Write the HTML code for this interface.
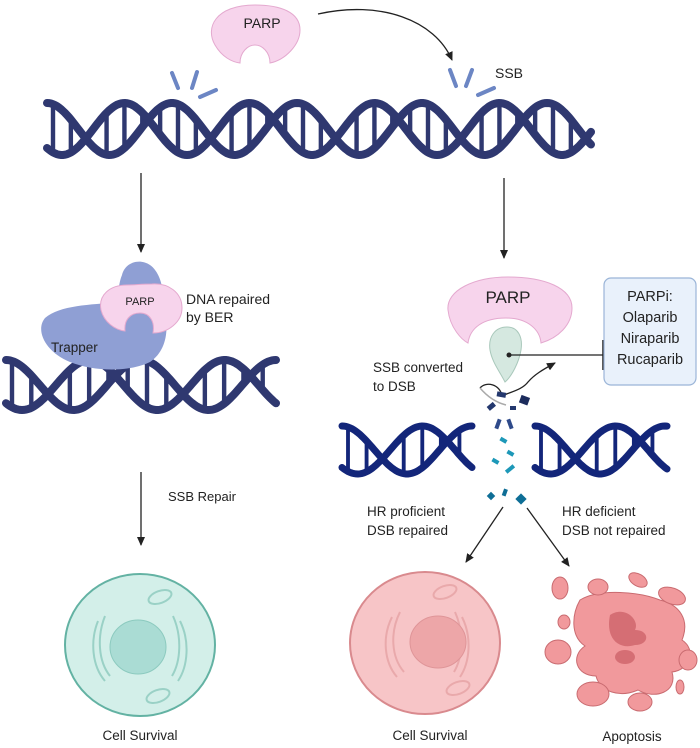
<!DOCTYPE html>
<html><head><meta charset="utf-8"><style>
html,body{margin:0;padding:0;background:#fff;width:700px;height:748px;overflow:hidden}
svg{display:block}
text{font-family:"Liberation Sans",sans-serif;fill:#222}
</style></head><body>
<svg id="s" width="700" height="748" viewBox="0 0 700 748" xmlns="http://www.w3.org/2000/svg">
<defs>
<marker id="ah" markerWidth="10" markerHeight="10" refX="8" refY="5" orient="auto" markerUnits="userSpaceOnUse"><path d="M0,1 L9,5 L0,9 Z" fill="#222"/></marker>
</defs>
<!-- top PARP -->
<path d="M255,5 C215,5 205,28 215,45 C222,57 232,62 240,63 C240,52 248,45 255,45 C262,45 270,52 270,63 C285,60 300,45 300,30 C300,12 280,5 255,5 Z" fill="#f7d4ec" stroke="#e4a9cf" stroke-width="1"/>
<text x="262" y="28" font-size="14" text-anchor="middle">PARP</text>
<path d="M318,14 C380,0 435,20 452,60" fill="none" stroke="#222" stroke-width="1.3" marker-end="url(#ah)"/>
<!-- SSB ticks -->
<g stroke="#6c86c4" stroke-width="4" stroke-linecap="round">
<line x1="172" y1="73" x2="178" y2="88"/><line x1="197" y1="72" x2="192" y2="88"/><line x1="200" y1="97" x2="216" y2="90"/>
<line x1="450" y1="70" x2="456" y2="86"/><line x1="472" y1="70" x2="466" y2="86"/><line x1="478" y1="95" x2="494" y2="88"/>
</g>
<text x="495" y="78" font-size="14">SSB</text>
<g id="dna"></g>
<!-- arrows down -->
<line x1="141" y1="173" x2="141" y2="252" stroke="#222" stroke-width="1.3" marker-end="url(#ah)"/>
<line x1="504" y1="178" x2="504" y2="258" stroke="#222" stroke-width="1.3" marker-end="url(#ah)"/>
<!-- left trapper -->
<path d="M122,275 C125,262 140,258 150,265 C160,272 165,290 162,305 C170,325 168,350 150,362 C130,372 95,372 70,362 C45,352 35,330 45,318 C60,305 90,305 118,302 C118,292 119,282 122,275 Z" fill="#8f9fd4"/>
<text x="51" y="352" font-size="13.5">Trapper</text>
<path d="M127,285 C110,285 98,295 101,310 C104,322 115,330 125,331 C124,320 130,313 140,313 C150,313 155,322 153,333 C168,333 182,322 182,308 C182,292 168,283 152,284 C142,284 135,285 127,285 Z" fill="#f7d4ec" stroke="#e4a9cf" stroke-width="1"/>
<text x="140" y="305" font-size="11" text-anchor="middle">PARP</text>
<text x="186" y="304" font-size="14">DNA repaired</text>
<text x="186" y="322" font-size="14">by BER</text>
<!-- SSB repair arrow -->
<line x1="141" y1="472" x2="141" y2="545" stroke="#222" stroke-width="1.3" marker-end="url(#ah)"/>
<text x="168" y="501" font-size="13">SSB Repair</text>
<!-- right PARP -->
<path d="M508,277 C475,277 446,290 448,310 C450,328 462,340 468,343 C470,328 483,318 506,318 C528,318 540,330 541,343 C558,338 572,325 572,308 C572,288 545,277 508,277 Z" fill="#f7d4ec" stroke="#e4a9cf" stroke-width="1"/>
<text x="508" y="303" font-size="17" text-anchor="middle">PARP</text>
<path d="M507,327 C495,327 488,337 490,350 C492,362 500,372 505,382 C512,376 519,362 521,350 C523,337 518,327 507,327 Z" fill="#d5e8e0" stroke="#a9c8bb" stroke-width="1"/>
<circle cx="509" cy="355" r="2.5" fill="#222"/>
<line x1="509" y1="355" x2="603" y2="355" stroke="#222" stroke-width="1.3"/>
<line x1="603" y1="340" x2="603" y2="370" stroke="#222" stroke-width="1.5"/>
<rect x="604" y="278" width="92" height="107" rx="7" fill="#e9f1fb" stroke="#9bb5d8" stroke-width="1.2"/>
<text font-size="14.5" text-anchor="middle"><tspan x="650" y="301">PARPi:</tspan><tspan x="650" y="322">Olaparib</tspan><tspan x="650" y="343">Niraparib</tspan><tspan x="650" y="364">Rucaparib</tspan></text>
<text x="373" y="372" font-size="13.5">SSB converted</text>
<text x="373" y="391" font-size="13.5">to DSB</text>
<path d="M480,388 C486,381 500,384 502,396 C510,392 522,390 528,382 C534,375 542,370 555,363" fill="none" stroke="#222" stroke-width="1.3" marker-end="url(#ah)"/>
<path d="M480,388 C486,395 494,402 506,405" fill="none" stroke="#aaa" stroke-width="1.5"/>
<!-- DSB fragments -->
<g>
<rect x="497" y="392" width="9" height="5" fill="#24386e" transform="rotate(10 501 394)"/>
<rect x="487" y="404" width="8" height="5" fill="#24386e" transform="rotate(-40 491 406)"/>
<rect x="520" y="396" width="9" height="8" fill="#1c2c5c" transform="rotate(20 524 400)"/>
<rect x="510" y="406" width="6" height="4" fill="#24386e"/>
<rect x="496" y="419" width="4" height="10" fill="#2e4a8a" transform="rotate(20 498 424)"/>
<rect x="508" y="419" width="4" height="10" fill="#2e4a8a" transform="rotate(-20 510 424)"/>
<rect x="500" y="438" width="7" height="4" fill="#1d98b8" transform="rotate(30 503 440)"/>
<rect x="507" y="451" width="7" height="4" fill="#1d98b8" transform="rotate(30 510 453)"/>
<rect x="492" y="459" width="7" height="4" fill="#1d98b8" transform="rotate(30 495 461)"/>
<rect x="505" y="467" width="10" height="4" fill="#1d98b8" transform="rotate(-40 510 469)"/>
<rect x="488" y="493" width="6" height="6" fill="#0e6e96" transform="rotate(45 491 496)"/>
<rect x="503" y="489" width="4" height="7" fill="#0e6e96" transform="rotate(20 505 492)"/>
<rect x="517" y="495" width="8" height="8" fill="#0e6e96" transform="rotate(45 521 499)"/>
</g>
<!-- branch arrows -->
<line x1="503" y1="507" x2="466" y2="562" stroke="#222" stroke-width="1.3" marker-end="url(#ah)"/>
<line x1="527" y1="508" x2="569" y2="566" stroke="#222" stroke-width="1.3" marker-end="url(#ah)"/>
<text font-size="13.5"><tspan x="367" y="516">HR proficient</tspan><tspan x="367" y="535">DSB repaired</tspan></text>
<text font-size="13.5"><tspan x="562" y="516">HR deficient</tspan><tspan x="562" y="535">DSB not repaired</tspan></text>
<!-- left cell -->
<ellipse cx="140" cy="645" rx="75" ry="71" fill="#d3efe9" stroke="#63b2a3" stroke-width="2"/>
<g fill="none" stroke="#9ad1c6" stroke-width="2">
<path d="M98,621 C90,641 92,666 105,681"/><path d="M105,616 C97,636 98,661 110,676"/>
<path d="M180,621 C190,641 188,666 178,681"/><path d="M173,616 C182,636 181,661 172,676"/>
</g>
<ellipse cx="138" cy="647" rx="28" ry="27" fill="#aadcd4" stroke="#8ccabf" stroke-width="1"/>
<ellipse cx="160" cy="597" rx="12" ry="6" fill="none" stroke="#9ad1c6" stroke-width="2" transform="rotate(-20 160 597)"/>
<ellipse cx="158" cy="696" rx="12" ry="6" fill="none" stroke="#9ad1c6" stroke-width="2" transform="rotate(-20 158 696)"/>
<text x="140" y="740" font-size="13.5" text-anchor="middle">Cell Survival</text>
<!-- middle cell -->
<ellipse cx="425" cy="643" rx="75" ry="71" fill="#f7c5c7" stroke="#d98a8e" stroke-width="2"/>
<g fill="none" stroke="#e9a9ab" stroke-width="2">
<path d="M392,617 C382,637 384,662 397,677"/><path d="M400,612 C390,632 391,657 404,672"/>
<path d="M462,617 C472,637 470,662 460,677"/><path d="M455,612 C464,632 463,657 454,672"/>
</g>
<ellipse cx="438" cy="642" rx="28" ry="26" fill="#eda6a8" stroke="#df9598" stroke-width="1"/>
<ellipse cx="445" cy="592" rx="12" ry="6" fill="none" stroke="#e9a9ab" stroke-width="2" transform="rotate(-20 445 592)"/>
<ellipse cx="458" cy="688" rx="12" ry="6" fill="none" stroke="#e9a9ab" stroke-width="2" transform="rotate(-20 458 688)"/>
<text x="430" y="740" font-size="13.5" text-anchor="middle">Cell Survival</text>
<!-- apoptosis -->
<g fill="#f1999c" stroke="#c96b70" stroke-width="1">
<path d="M580,600 C600,588 640,592 660,600 C680,605 690,620 682,640 C697,650 690,670 672,672 C678,692 655,700 638,690 C620,698 600,692 596,676 C576,676 570,656 585,646 C570,636 572,614 580,600 Z"/>
<ellipse cx="560" cy="588" rx="8" ry="11"/>
<ellipse cx="598" cy="587" rx="10" ry="8"/>
<ellipse cx="638" cy="580" rx="10" ry="6" transform="rotate(30 638 580)"/>
<ellipse cx="672" cy="596" rx="14" ry="8" transform="rotate(20 672 596)"/>
<ellipse cx="564" cy="622" rx="6" ry="7"/>
<ellipse cx="558" cy="652" rx="13" ry="12"/>
<ellipse cx="688" cy="660" rx="9" ry="10"/>
<ellipse cx="593" cy="694" rx="16" ry="12"/>
<ellipse cx="640" cy="702" rx="12" ry="9"/>
<ellipse cx="680" cy="687" rx="4" ry="7"/>
</g>
<g fill="#d56e74">
<path d="M610,615 C625,605 640,620 635,630 C650,630 650,645 635,645 C620,650 605,640 610,615 Z"/>
<ellipse cx="625" cy="657" rx="10" ry="7"/>
</g>
<text x="632" y="741" font-size="13.5" text-anchor="middle">Apoptosis</text>
</svg>
<script>
(function(){
var g=document.getElementById('dna');var ns='http://www.w3.org/2000/svg';
function helix(x0,x1,cy,amp,per,col,w,ph){
  for(var x=x0+6;x<x1-4;x+=per/7){
    var y1=cy-amp*Math.cos(2*Math.PI*(x-x0)/per+ph),y2=cy-amp*Math.cos(2*Math.PI*(x-x0+per*0.38)/per+ph);
    if(Math.abs(y1-y2)<amp*0.5)continue;
    var l=document.createElementNS(ns,'line');l.setAttribute('x1',x);l.setAttribute('x2',x);l.setAttribute('y1',y1);l.setAttribute('y2',y2);l.setAttribute('stroke',col);l.setAttribute('stroke-width',w*0.55);g.appendChild(l);}
  for(var k=0;k<2;k++){var d='';var off=k?per*0.38:0;
    for(var x=x0;x<=x1;x+=2){var y=cy-amp*Math.cos(2*Math.PI*(x-x0+off)/per+ph);d+=(x==x0?'M':'L')+x+','+y.toFixed(1);}
    var p=document.createElementNS(ns,'path');p.setAttribute('d',d);p.setAttribute('fill','none');p.setAttribute('stroke',col);p.setAttribute('stroke-width',w);p.setAttribute('stroke-linecap','round');g.appendChild(p);}
}
helix(47,592,129,26,125,'#2f3870',8,0);
helix(6,276,385,25,135,'#2f3870',8,0);
helix(342,472,450,24,130,'#13267a',7,0);
helix(535,667,450,24,130,'#13267a',7,0);
})();
</script>
</body></html>
